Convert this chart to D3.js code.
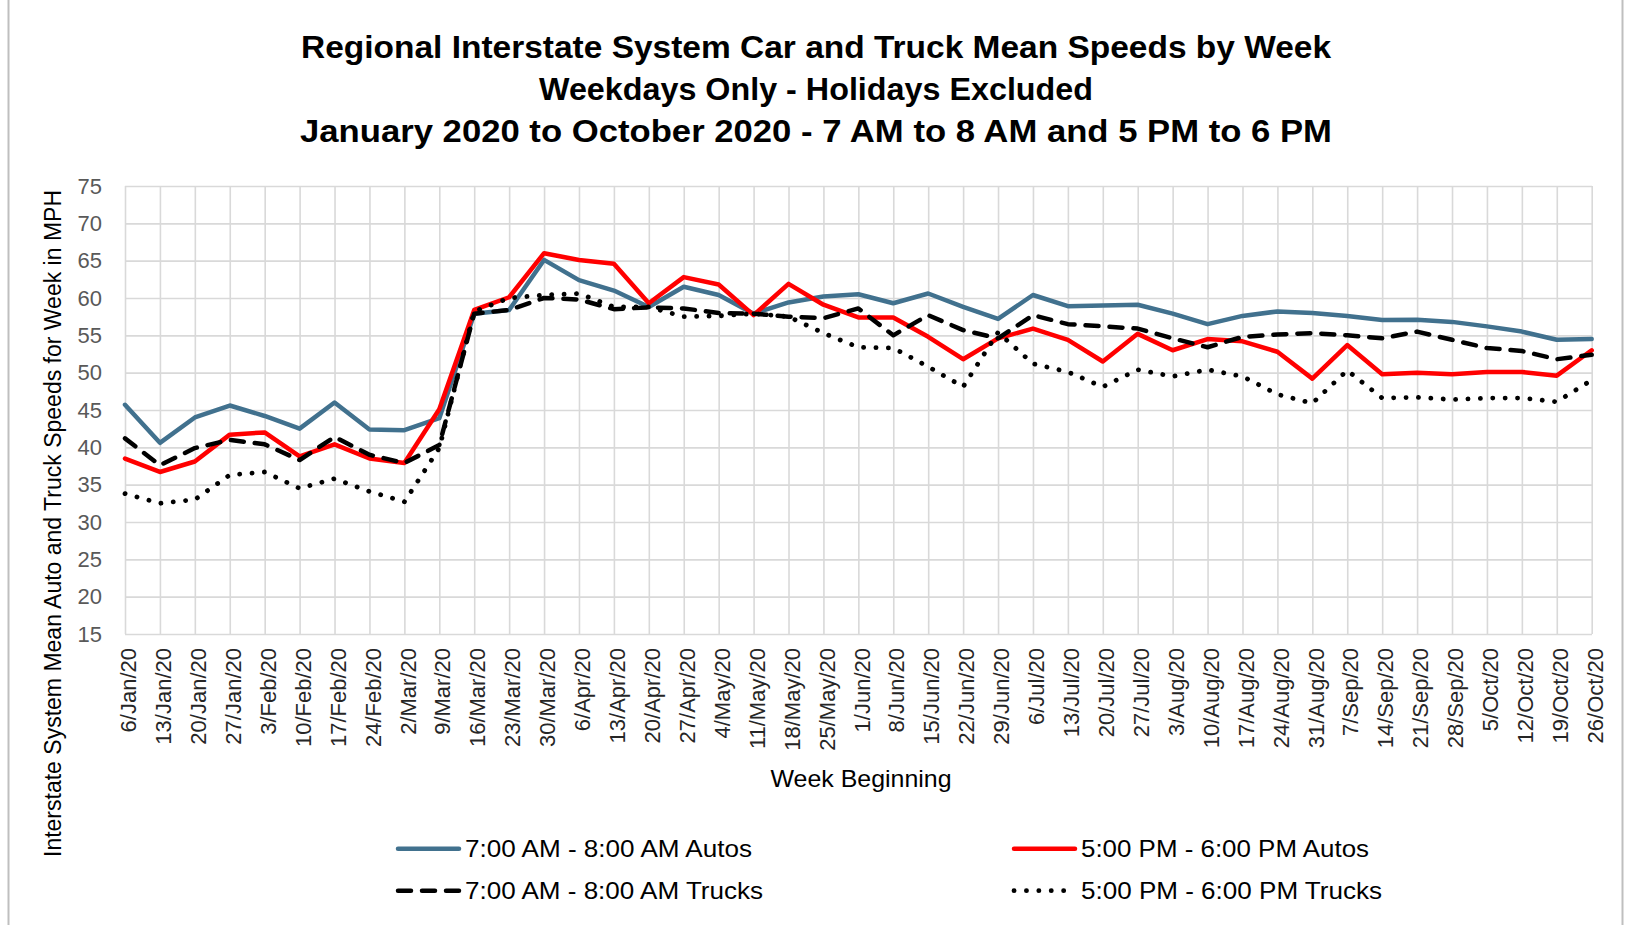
<!DOCTYPE html>
<html>
<head>
<meta charset="utf-8">
<script src="https://cdn.jsdelivr.net/npm/d3@7"></script>
<style>
  body { margin: 0; background: #fff; }
  text { font-family: "Liberation Sans", Arial, sans-serif; }
</style>
</head>
<body>
<div id="chart"></div>
<script>
// week labels (x axis)
var weeks = ["6/Jan/20", "13/Jan/20", "20/Jan/20", "27/Jan/20", "3/Feb/20", "10/Feb/20", "17/Feb/20",
    "24/Feb/20", "2/Mar/20", "9/Mar/20", "16/Mar/20", "23/Mar/20", "30/Mar/20", "6/Apr/20", "13/Apr/20",
    "20/Apr/20", "27/Apr/20", "4/May/20", "11/May/20", "18/May/20", "25/May/20", "1/Jun/20", "8/Jun/20",
    "15/Jun/20", "22/Jun/20", "29/Jun/20", "6/Jul/20", "13/Jul/20", "20/Jul/20", "27/Jul/20", "3/Aug/20",
    "10/Aug/20", "17/Aug/20", "24/Aug/20", "31/Aug/20", "7/Sep/20", "14/Sep/20", "21/Sep/20", "28/Sep/20",
    "5/Oct/20", "12/Oct/20", "19/Oct/20", "26/Oct/20"];

var amAutos = [45.7, 40.6, 44.0, 45.6, 44.2, 42.5, 46.0, 42.4, 42.3, 43.9, 57.9, 58.4, 65.1, 62.4, 61.0,
    58.8, 61.5, 60.4, 57.9, 59.4, 60.2, 60.5, 59.3, 60.6, 58.8, 57.2, 60.4, 58.9, 59.0, 59.1, 57.9,
    56.5, 57.6, 58.2, 58.0, 57.6, 57.05, 57.1, 56.8, 56.2, 55.5, 54.4, 54.5];

var pmAutos = [38.5, 36.7, 38.1, 41.7, 42.0, 38.8, 40.4, 38.5, 37.9, 45.1, 58.4, 60.1, 66.0, 65.1, 64.6,
    59.3, 62.8, 61.8, 57.7, 61.9, 59.1, 57.4, 57.4, 54.8, 51.8, 54.6, 55.9, 54.4, 51.5, 55.2, 53.0,
    54.5, 54.2, 52.8, 49.2, 53.7, 49.8, 50.0, 49.8, 50.1, 50.1, 49.6, 53.0];

var amTrucks = [41.2, 37.6, 39.9, 41.0, 40.4, 38.3, 41.4, 39.0, 37.9, 40.3, 57.9, 58.4, 60.0, 59.8, 58.5,
    58.75, 58.6, 58.0, 57.9, 57.5, 57.3, 58.6, 55.0, 57.7, 55.7, 54.6, 57.7, 56.5, 56.2, 55.9, 54.6,
    53.4, 54.8, 55.1, 55.3, 55.0, 54.6, 55.5, 54.4, 53.3, 52.9, 51.8, 52.4];

var pmTrucks = [33.8, 32.5, 33.0, 36.3, 36.7, 34.5, 35.8, 34.1, 32.7, 39.9, 58.2, 60.0, 60.4, 60.6, 58.8,
    58.8, 57.5, 57.6, 57.9, 57.5, 55.3, 53.4, 53.3, 50.8, 48.1, 55.4, 51.2, 50.1, 48.1, 50.4, 49.5,
    50.4, 49.5, 47.1, 45.9, 50.3, 46.6, 46.7, 46.4, 46.6, 46.6, 46.1, 49.0];

var seriesNames = ["7:00 AM - 8:00 AM Autos", "5:00 PM - 6:00 PM Autos",
    "7:00 AM - 8:00 AM Trucks", "5:00 PM - 6:00 PM Trucks"];

var yTicks = [15, 20, 25, 30, 35, 40, 45, 50, 55, 60, 65, 70, 75];

var titleLines = ["Regional Interstate System Car and Truck Mean Speeds by Week",
    "Weekdays Only - Holidays Excluded",
    "January 2020 to October 2020 - 7 AM to 8 AM and 5 PM to 6 PM"];

var svgWidth = 1628;
var svgHeight = 925;

var margin = { top: 186, right: 36, bottom: 291, left: 125 };
var width = svgWidth - margin.left - margin.right;
var height = svgHeight - margin.top - margin.bottom;

var svg = d3.select("#chart")
    .append("svg")
    .attr("width", svgWidth)
    .attr("height", svgHeight);

// chart frame
svg.append("rect")
    .attr("x", 8.5).attr("y", -5)
    .attr("width", 1614).attr("height", svgHeight + 10)
    .attr("fill", "none")
    .attr("stroke", "#bfbfbf")
    .attr("stroke-width", 2);

var chartGroup = svg.append("g")
    .attr("transform", `translate(${margin.left}, ${margin.top})`);

var xScale = d3.scalePoint()
    .domain(weeks)
    .range([0, width - 0.3]);

var yScale = d3.scaleLinear()
    .domain([15, 75])
    .range([height, 0]);

// horizontal grid + y labels
var leftAxis = d3.axisLeft(yScale)
    .tickValues(yTicks)
    .tickSizeInner(-width)
    .tickSizeOuter(0)
    .tickPadding(23);

var yAxisG = chartGroup.append("g").call(leftAxis);
yAxisG.select(".domain").remove();
yAxisG.selectAll("line").attr("stroke", "#d9d9d9").attr("stroke-width", 1.6);
yAxisG.selectAll("text")
    .attr("fill", "#595959")
    .style("font-size", "22px")
    .style("font-family", "'Liberation Sans', Arial, sans-serif");

// vertical grid + x labels
var bottomAxis = d3.axisBottom(xScale)
    .tickSizeInner(-height)
    .tickSizeOuter(0)
    .tickPadding(0);

var xAxisG = chartGroup.append("g")
    .attr("transform", `translate(0, ${height})`)
    .call(bottomAxis);
xAxisG.select(".domain").remove();
xAxisG.selectAll("line").attr("stroke", "#d9d9d9").attr("stroke-width", 1.6);
xAxisG.selectAll("text")
    .attr("transform", "rotate(-90)")
    .attr("x", -14)
    .attr("y", 3)
    .attr("dy", "0.35em")
    .style("text-anchor", "end")
    .attr("fill", "#262626")
    .style("font-size", "22px")
    .style("font-family", "'Liberation Sans', Arial, sans-serif");

// series lines
var styles = [
    { color: "#41718e", dash: null },
    { color: "#ff0000", dash: null },
    { color: "#000000", dash: "13,11" },
    { color: "#000000", dash: "0.1,12.3" }
];
var allSeries = [amAutos, pmAutos, amTrucks, pmTrucks];

var line = d3.line()
    .x((d, i) => xScale(weeks[i]))
    .y(d => yScale(d));

allSeries.forEach(function(values, k) {
    chartGroup.append("path")
        .datum(values)
        .attr("d", line)
        .attr("fill", "none")
        .attr("stroke", styles[k].color)
        .attr("stroke-width", k == 3 ? 4.8 : 4.5)
        .attr("stroke-linejoin", "round")
        .attr("stroke-linecap", "round")
        .attr("stroke-dasharray", styles[k].dash);
});

// title
var titleBase = [58, 100, 142];
var titleLens = [1030, 554, 1032];
titleLines.forEach(function(t, i) {
    svg.append("text")
        .attr("x", 816)
        .attr("y", titleBase[i])
        .attr("text-anchor", "middle")
        .attr("textLength", titleLens[i])
        .attr("lengthAdjust", "spacingAndGlyphs")
        .style("font-size", "32px")
        .style("font-weight", "bold")
        .attr("fill", "#000")
        .text(t);
});

// axis titles
svg.append("text")
    .attr("transform", "translate(61, 523.5) rotate(-90)")
    .attr("text-anchor", "middle")
    .attr("textLength", 667)
    .attr("lengthAdjust", "spacingAndGlyphs")
    .style("font-size", "23px")
    .attr("fill", "#000")
    .text("Interstate System Mean Auto and Truck Speeds for Week  in MPH");

svg.append("text")
    .attr("x", 861)
    .attr("y", 787)
    .attr("text-anchor", "middle")
    .attr("textLength", 181)
    .attr("lengthAdjust", "spacingAndGlyphs")
    .style("font-size", "24px")
    .attr("fill", "#000")
    .text("Week Beginning");

// legend
var legendPos = [
    { x: 396, y: 848.7, len: 287 },
    { x: 1012, y: 848.7, len: 288 },
    { x: 396, y: 890.7, len: 298 },
    { x: 1012, y: 890.7, len: 301 }
];

var legendG = svg.selectAll(".legend")
    .data(seriesNames)
    .enter()
    .append("g")
    .attr("class", "legend")
    .attr("transform", (d, i) => `translate(${legendPos[i].x}, ${legendPos[i].y})`);

legendG.append("line")
    .attr("x1", 2)
    .attr("x2", 63)
    .attr("y1", 0).attr("y2", 0)
    .attr("stroke", (d, i) => styles[i].color)
    .attr("stroke-width", (d, i) => i == 3 ? 4.8 : 4.5)
    .attr("stroke-linecap", "round")
    .attr("stroke-dasharray", (d, i) => styles[i].dash);

legendG.append("text")
    .attr("x", 69)
    .attr("y", 8.6)
    .attr("textLength", (d, i) => legendPos[i].len)
    .attr("lengthAdjust", "spacingAndGlyphs")
    .style("font-size", "24px")
    .attr("fill", "#000")
    .text(d => d);
</script>
</body>
</html>
